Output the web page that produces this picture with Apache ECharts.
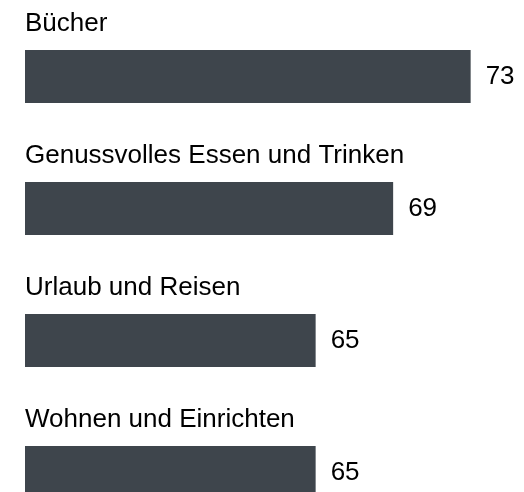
<!DOCTYPE html>
<html>
<head>
<meta charset="utf-8">
<script src="https://cdn.jsdelivr.net/npm/echarts@6/dist/echarts.min.js"></script>
<style>html,body{margin:0;padding:0;background:#fff;overflow:hidden}#c{width:524px;height:539px}</style>
</head>
<body>
<div id="c"></div>
<script>
const categories = ['Bücher', 'Genussvolles Essen und Trinken', 'Urlaub und Reisen', 'Wohnen und Einrichten'];
const values = [73, 69, 65, 65];

const chart = echarts.init(document.getElementById('c'), null, {renderer: 'canvas'});
const font = "'Liberation Sans', Arial, sans-serif";
chart.setOption({
  animation: false,
  backgroundColor: '#ffffff',
  grid: {left: 25, right: 14.6, top: 10.5, bottom: 0.5, containLabel: false},
  xAxis: {type: 'value', min: 50, max: 75, show: false},
  yAxis: {type: 'category', data: categories, inverse: true, show: false},
  series: [
    {
      type: 'bar', data: values, barWidth: 53,
      itemStyle: {color: '#3e454c'},
      label: {show: true, position: 'right', distance: 15, color: '#000', fontSize: 26, fontFamily: font}
    },
    {
      type: 'bar', data: values, barWidth: 53, barGap: '-100%',
      itemStyle: {color: 'rgba(0,0,0,0)'},
      label: {show: true, position: [0, -26], align: 'left', verticalAlign: 'middle',
        formatter: p => p.name, color: '#000', fontSize: 26, fontFamily: font}
    }
  ]
});
</script>
</body>
</html>
